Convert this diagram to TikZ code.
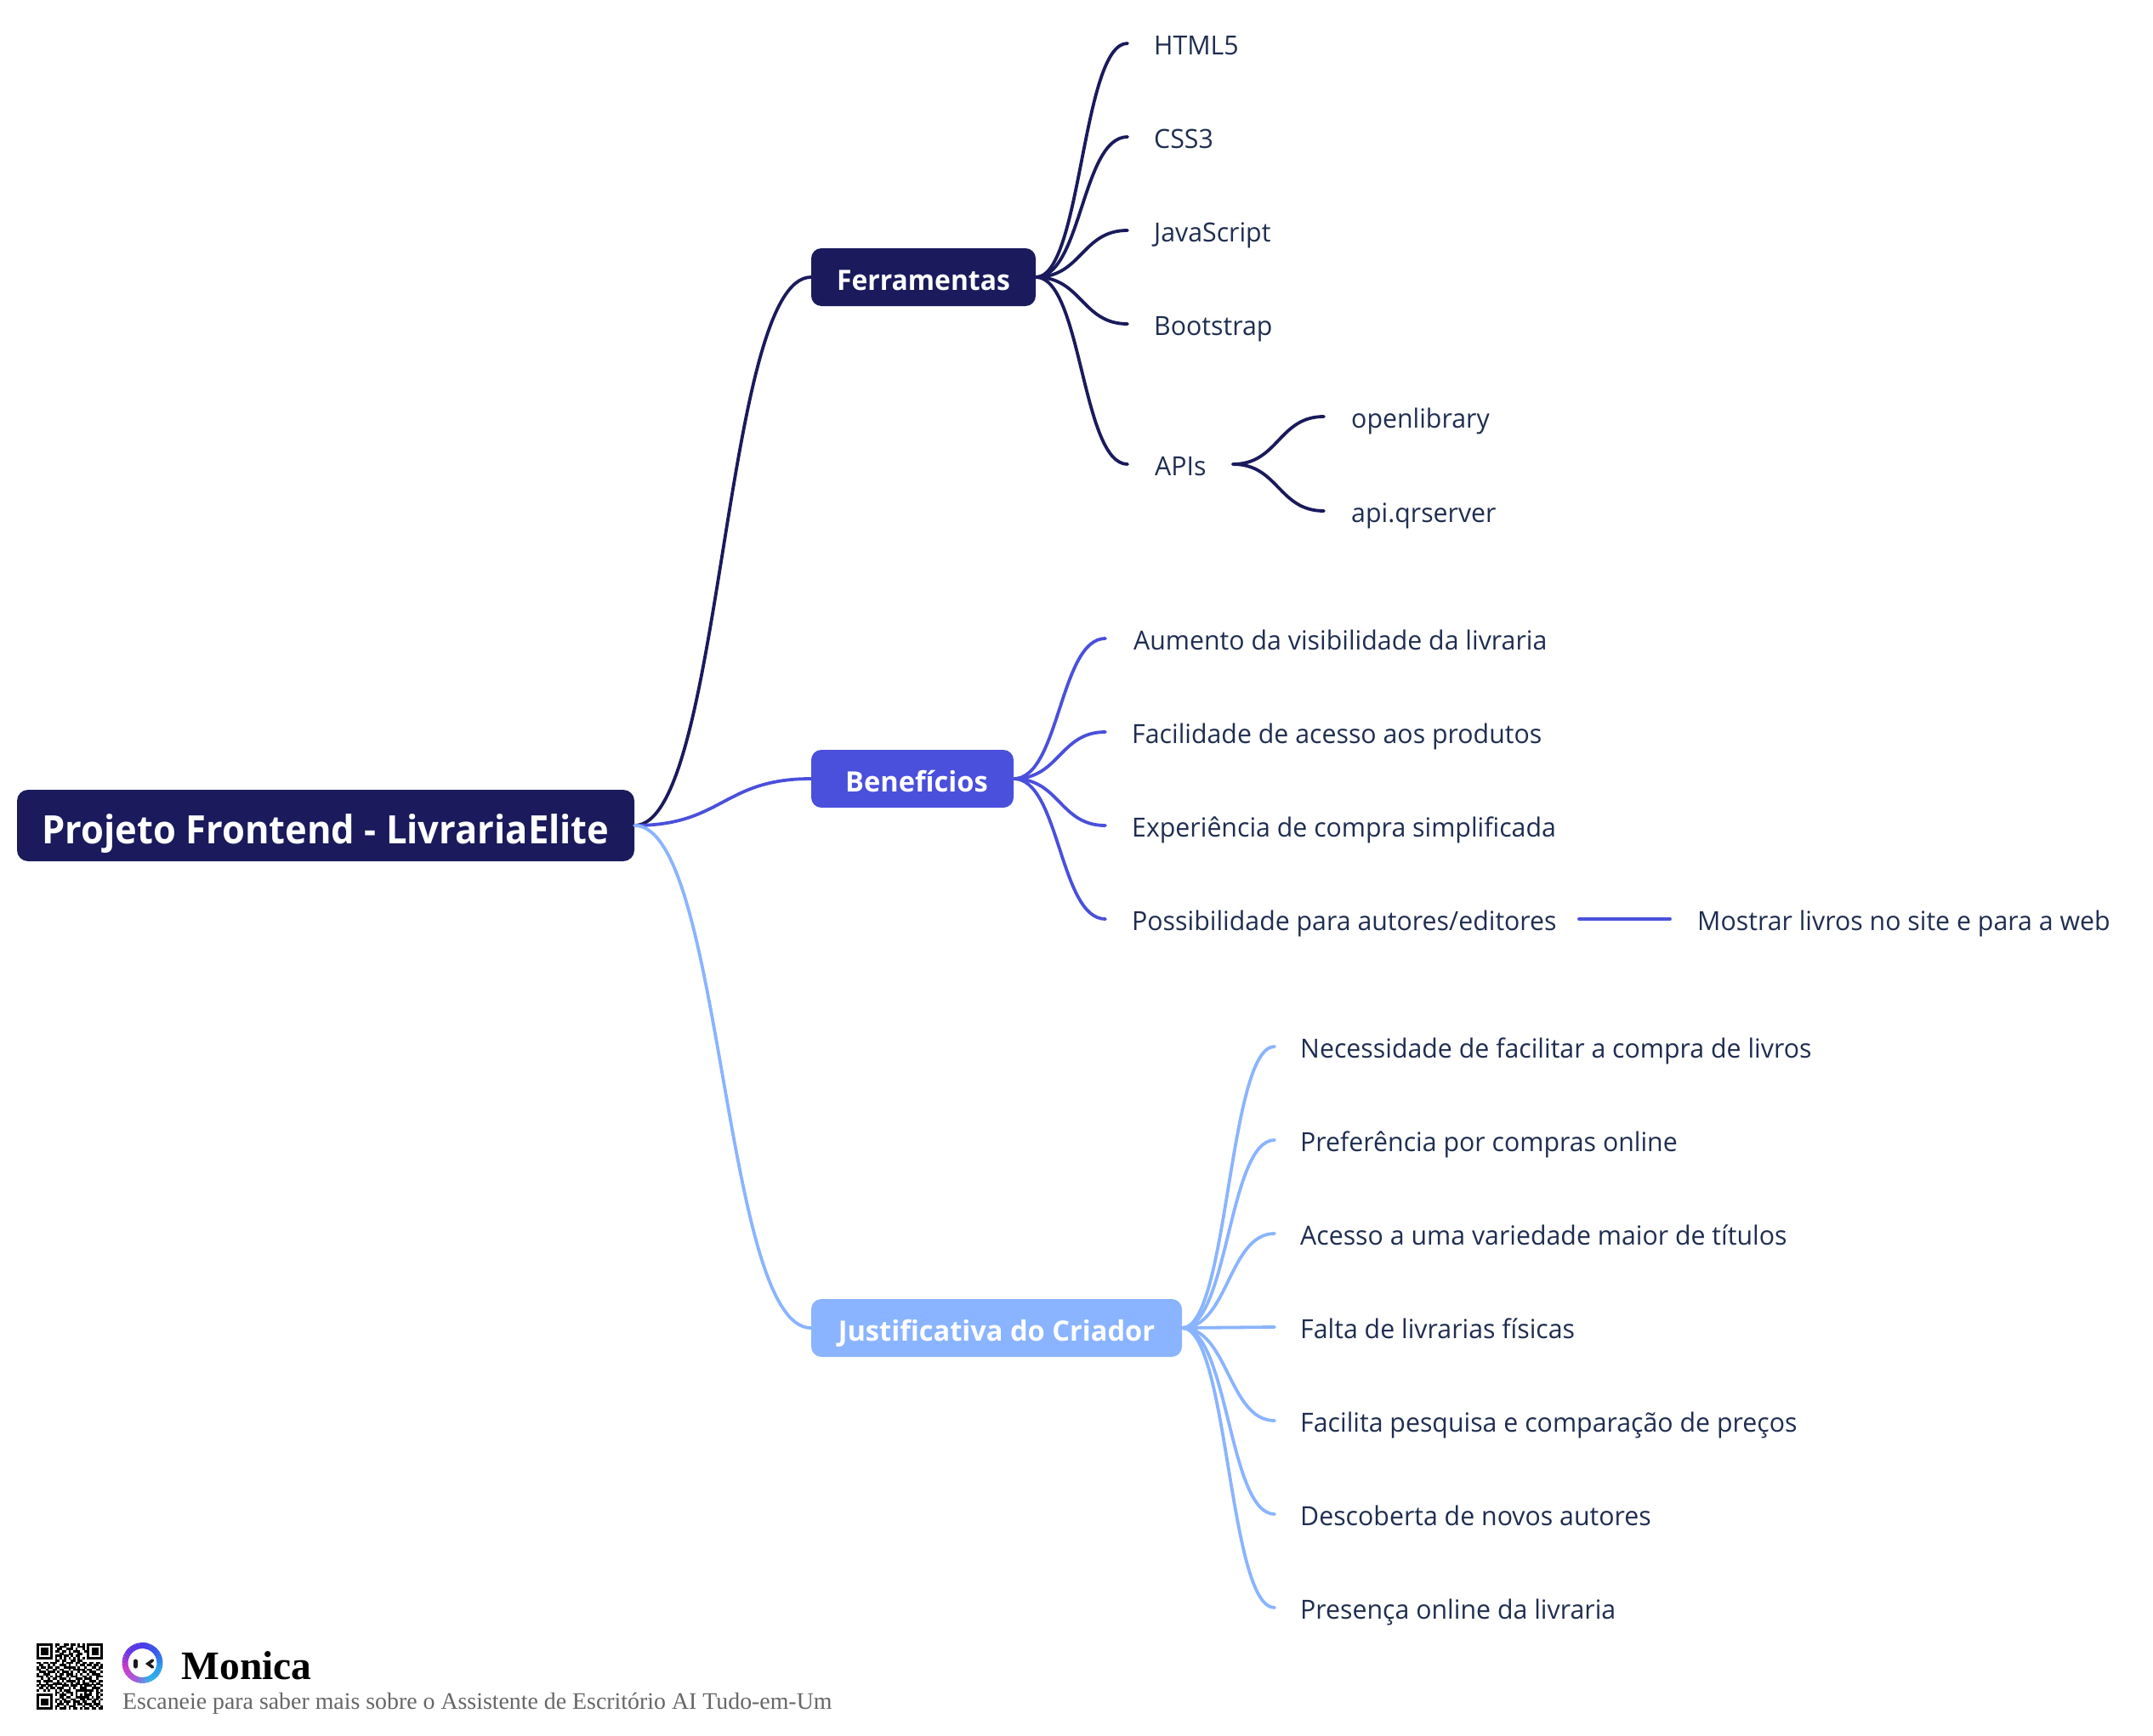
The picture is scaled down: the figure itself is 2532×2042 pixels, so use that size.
\documentclass[tikz,border=0pt]{standalone}
\usepackage{fontspec}
\usetikzlibrary{calc}
\setmainfont{Open Sans}
\newfontfamily\leaffont[FakeStretch=0.977]{Open Sans}
\newfontfamily\rootfont[FakeStretch=0.945]{Open Sans}
\newfontfamily\mainboxfont[FakeStretch=0.965]{Open Sans}
\newfontfamily\mainwidefont[FakeStretch=0.988]{Open Sans}
\newfontfamily\serifmark{Liberation Serif}
\definecolor{navy}{HTML}{1A1A5C}
\definecolor{indigo}{HTML}{4A50DB}
\definecolor{sky}{HTML}{8AB4FF}
\definecolor{inktext}{HTML}{1F2D50}
\tikzset{
 x=1pt,y=-1pt,
 rootbox/.style={fill=navy,rounded corners=13pt,text=white,inner sep=0pt,text height=45pt,text depth=2pt,font=\rootfont\fontsize{46}{50}\selectfont\bfseries},
 mainbox/.style={rounded corners=12pt,text=white,inner sep=0pt,text height=32pt,text depth=2pt,font=\mainboxfont\fontsize{33}{38}\selectfont\bfseries},
 widebox/.style={mainbox,font=\mainwidefont\fontsize{33}{38}\selectfont\bfseries},
 leaf/.style={anchor=base west,inner sep=0pt,text=inktext,font=\leaffont\fontsize{31}{36}\selectfont},
 link/.style={line width=3.8pt,line cap=round},
}
\newcommand{\slink}[3]{%
 \coordinate (cM) at ($(#2)!0.5!(#3)$);
 \draw[link,#1] (#2) .. controls (cM|-#2) and (cM|-#3) .. (#3);}
\newcount\qrcol \newcount\qrrow
\def\qrscan#1{\ifx#1.\else
 \if#11\fill[black] ({43+2.69*\the\qrcol},{1933+2.69*\the\qrrow}) rectangle ++(2.75,2.75);\fi
 \global\advance\qrcol by 1
 \expandafter\qrscan\fi}
\newcommand{\qrline}[1]{\global\qrcol=0 \qrscan#1.\global\advance\qrrow by 1 }
\begin{document}
\begin{tikzpicture}
\useasboundingbox (0,0) rectangle (2532,2042);
\node[rootbox,minimum width=726pt,minimum height=84pt] (root) at (383,971) {Projeto Frontend - LivrariaElite};
\node[mainbox,fill=navy,minimum width=264pt,minimum height=68pt] (fer) at (1086,326) {Ferramentas};
\node[widebox,fill=indigo,minimum width=238pt,minimum height=68pt] (ben) at (1073,916) {\hspace{10pt}Benefícios};
\node[widebox,fill=sky,minimum width=436pt,minimum height=68pt] (jus) at (1172,1562) {Justificativa do Criador};
\slink{navy}{root.east}{fer.west}
\slink{indigo}{root.east}{ben.west}
\slink{sky}{root.east}{jus.west}
\foreach \nm/\tx/\ly/\tt in {
 a1/1357/51/HTML5, a2/1357/161/CSS3, a3/1357/271/JavaScript, a4/1357/381/Bootstrap, a5/1358/546/APIs}{
 \node[leaf] (\nm) at (\tx,\ly+13) {\tt};
 \coordinate (\nm e) at (1326,\ly);
 \slink{navy}{fer.east}{\nm e}
}
\coordinate (apis) at (1450,546);
\foreach \nm/\ly/\tt in {b1/490/openlibrary, b2/601/api.qrserver}{
 \node[leaf] (\nm) at (1589,\ly+13) {\tt};
 \coordinate (\nm e) at (1557,\ly);
 \slink{navy}{apis}{\nm e}
}
\foreach \nm/\tx/\ly/\tt in {
 c1/1333/751/{Aumento da visibilidade da livraria},
 c2/1331/861/{Facilidade de acesso aos produtos},
 c3/1331/971/{Experiência de compra simplificada},
 c4/1331/1081/{Possibilidade para autores/editores}}{
 \node[leaf] (\nm) at (\tx,\ly+13) {\tt};
 \coordinate (\nm e) at (1300,\ly);
 \slink{indigo}{ben.east}{\nm e}
}
\coordinate (poss) at (1857,1081);
\coordinate (most) at (1964,1081);
\draw[link,indigo] (poss) -- (most);
\node[leaf] (c5) at (1996,1094) {Mostrar livros no site e para a web};
\foreach \nm/\ly/\tt in {
 d1/1231/{Necessidade de facilitar a compra de livros},
 d2/1341/{Preferência por compras online},
 d3/1451/{Acesso a uma variedade maior de títulos},
 d4/1561/{Falta de livrarias físicas},
 d5/1671/{Facilita pesquisa e comparação de preços},
 d6/1781/{Descoberta de novos autores},
 d7/1891/{Presença online da livraria}}{
 \node[leaf] (\nm) at (1529,\ly+13) {\tt};
 \coordinate (\nm e) at (1499,\ly);
 \slink{sky}{jus.east}{\nm e}
}
% footer
\node[anchor=base west,inner sep=0pt,font=\serifmark\fontsize{47.5}{50}\selectfont\bfseries] (mon) at (213.5,1975) {Monica};
\node[anchor=base west,inner sep=0pt,text=black!60,font=\serifmark\fontsize{27.85}{32}\selectfont] (sub) at (144,2010) {Escaneie para saber mais sobre o Assistente de Escritório AI Tudo-em-Um};
% QR
\qrline{11111110110011011010101111111}
\qrline{10000010101110010011101000001}
\qrline{10111010011001110100101011101}
\qrline{10111010110110101110011011101}
\qrline{10111010001100110011001011101}
\qrline{10000010111011010110001000001}
\qrline{11111110101010101010101111111}
\qrline{00000000110110011011000000000}
\qrline{11011011100101110110110110110}
\qrline{01100101001110100101101101101}
\qrline{10110110110011111010010011011}
\qrline{11001001101100101111101100110}
\qrline{01110111010111010010110111001}
\qrline{10011100101101110101001011110}
\qrline{11101010111001011100110100111}
\qrline{00100101101110100111011100100}
\qrline{11011110010101111010100111011}
\qrline{01001001111010010110111010110}
\qrline{10110110100111011101011101001}
\qrline{01101011011100101001110011110}
\qrline{10010100101011100111111110101}
\qrline{00000000110101110100010100110}
\qrline{11111110101110010101011100101}
\qrline{10000010001101100111111010110}
\qrline{10111010110110011001101101101}
\qrline{10111010101011101110110011010}
\qrline{10111010011101001011011101110}
\qrline{10000010110010111000100110101}
\qrline{11111110101110101101011011011}
% logo ring
\coordinate (logo) at (167.5,1956);
\draw[line width=7pt,color={rgb,255:red,74;green,59;blue,232}] (logo) ++({20.5*cos(-75)},{20.5*sin(-75)}) arc[start angle=-75,delta angle=-17,radius=20.5];
\foreach \ca/\cb/\st in {
 4A3BE8/7035E0/90, 7035E0/C83CC8/140, C83CC8/A858D8/190, A858D8/30B0E8/240, 30B0E8/2F9CEB/290, 2F9CEB/3560E8/340, 3560E8/4A3BE8/390}{
 \definecolor{ringA}{HTML}{\ca}\definecolor{ringB}{HTML}{\cb}
 \foreach \k in {0,10,...,40}{
  \pgfmathsetmacro{\mixp}{100-\k*2}
  \colorlet{ringC}{ringA!\mixp!ringB}
  \draw[line width=7pt,ringC] ($(logo)+({20.5*cos(-\st-\k)},{20.5*sin(-\st-\k)})$) arc[start angle={-\st-\k},delta angle=-11,radius=20.5];
 }
}
\draw[line width=5pt,line cap=round,black!90] (159.5,1954) -- (159.5,1960);
\draw[line width=3.6pt,line cap=round,black!90] (179.5,1953) -- (174,1957) -- (179.5,1961);
\end{tikzpicture}
\end{document}
